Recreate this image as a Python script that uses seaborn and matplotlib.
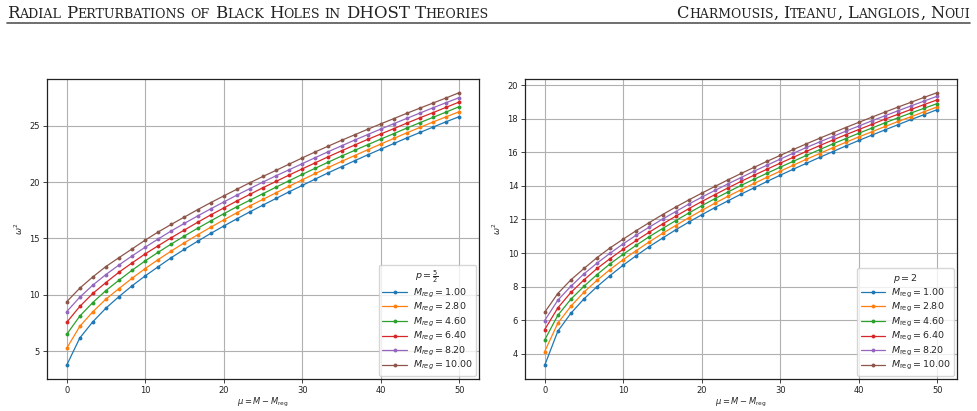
import numpy as np
import pandas as pd
import matplotlib
matplotlib.use('Agg')
import matplotlib.pyplot as plt
import seaborn as sns
from matplotlib.transforms import IdentityTransform
from matplotlib.lines import Line2D

# sampled mu values (same grid for both panels)
mu = [0.0, 1.67, 3.33, 5.0, 6.67, 8.33, 10.0, 11.67, 13.33, 15.0, 16.67,
      18.33, 20.0, 21.67, 23.33, 25.0, 26.67, 28.33, 30.0, 31.67, 33.33,
      35.0, 36.67, 38.33, 40.0, 41.67, 43.33, 45.0, 46.67, 48.33, 50.0]

m_reg = [1.00, 2.80, 4.60, 6.40, 8.20, 10.00]

# p = 5/2
w2_p52_m100 = [3.75, 6.17, 7.61, 8.82, 9.85, 10.80, 11.68, 12.50, 13.30, 14.04, 14.75,
               15.44, 16.10, 16.74, 17.36, 17.96, 18.55, 19.14, 19.70, 20.27, 20.83,
               21.36, 21.89, 22.41, 22.92, 23.42, 23.92, 24.40, 24.88, 25.35, 25.80]
w2_p52_m280 = [5.25, 7.20, 8.50, 9.62, 10.56, 11.47, 12.33, 13.13, 13.89, 14.62, 15.32,
               15.99, 16.64, 17.28, 17.89, 18.47, 19.05, 19.63, 20.20, 20.76, 21.30,
               21.83, 22.35, 22.86, 23.37, 23.87, 24.37, 24.85, 25.33, 25.79, 26.24]
w2_p52_m460 = [6.49, 8.11, 9.32, 10.38, 11.30, 12.18, 13.01, 13.78, 14.51, 15.22, 15.90,
               16.55, 17.19, 17.81, 18.39, 18.97, 19.55, 20.12, 20.68, 21.23, 21.77,
               22.30, 22.81, 23.31, 23.81, 24.30, 24.79, 25.27, 25.74, 26.21, 26.69]
w2_p52_m640 = [7.55, 8.97, 10.12, 11.09, 12.01, 12.83, 13.63, 14.36, 15.07, 15.75, 16.43,
               17.08, 17.70, 18.32, 18.91, 19.50, 20.06, 20.62, 21.17, 21.71, 22.25,
               22.77, 23.28, 23.78, 24.26, 24.74, 25.23, 25.70, 26.16, 26.63, 27.10]
w2_p52_m820 = [8.50, 9.79, 10.86, 11.80, 12.65, 13.45, 14.22, 14.96, 15.67, 16.34, 16.99,
               17.62, 18.23, 18.84, 19.42, 20.00, 20.56, 21.09, 21.63, 22.17, 22.70,
               23.21, 23.72, 24.21, 24.70, 25.18, 25.65, 26.12, 26.59, 27.04, 27.49]
w2_p52_m1000 = [9.38, 10.59, 11.59, 12.51, 13.30, 14.07, 14.85, 15.58, 16.25, 16.90, 17.55,
                18.17, 18.77, 19.36, 19.94, 20.50, 21.04, 21.59, 22.14, 22.68, 23.19,
                23.70, 24.19, 24.68, 25.16, 25.63, 26.10, 26.56, 27.01, 27.46, 27.93]

# p = 2
w2_p2_m100 = [3.31, 5.34, 6.41, 7.27, 8.00, 8.66, 9.28, 9.85, 10.39, 10.89, 11.38,
              11.84, 12.28, 12.71, 13.11, 13.51, 13.89, 14.27, 14.64, 15.00, 15.35,
              15.70, 16.04, 16.38, 16.71, 17.03, 17.34, 17.65, 17.96, 18.25, 18.55]
w2_p2_m280 = [4.13, 5.82, 6.83, 7.67, 8.38, 9.02, 9.61, 10.15, 10.67, 11.17, 11.64,
              12.10, 12.54, 12.97, 13.38, 13.77, 14.15, 14.52, 14.88, 15.24, 15.59,
              15.93, 16.27, 16.60, 16.92, 17.23, 17.54, 17.84, 18.13, 18.42, 18.71]
w2_p2_m460 = [4.82, 6.29, 7.25, 8.02, 8.72, 9.36, 9.93, 10.47, 10.98, 11.46, 11.93,
              12.38, 12.82, 13.24, 13.64, 14.03, 14.40, 14.76, 15.12, 15.47, 15.82,
              16.16, 16.50, 16.82, 17.14, 17.45, 17.76, 18.06, 18.35, 18.63, 18.91]
w2_p2_m640 = [5.44, 6.73, 7.65, 8.40, 9.08, 9.67, 10.23, 10.75, 11.25, 11.73, 12.19,
              12.64, 13.07, 13.48, 13.88, 14.27, 14.64, 15.00, 15.36, 15.71, 16.06,
              16.40, 16.73, 17.05, 17.36, 17.67, 17.98, 18.27, 18.56, 18.85, 19.13]
w2_p2_m820 = [5.98, 7.19, 8.02, 8.76, 9.40, 9.99, 10.55, 11.07, 11.55, 12.02, 12.47,
              12.91, 13.33, 13.73, 14.12, 14.50, 14.88, 15.24, 15.60, 15.95, 16.29,
              16.62, 16.94, 17.26, 17.57, 17.88, 18.18, 18.48, 18.77, 19.06, 19.35]
w2_p2_m1000 = [6.47, 7.59, 8.40, 9.08, 9.73, 10.31, 10.83, 11.34, 11.82, 12.29, 12.74,
               13.16, 13.57, 13.97, 14.36, 14.74, 15.11, 15.47, 15.82, 16.17, 16.51,
               16.84, 17.16, 17.48, 17.79, 18.10, 18.40, 18.70, 18.99, 19.28, 19.56]

series_p52 = [w2_p52_m100, w2_p52_m280, w2_p52_m460, w2_p52_m640, w2_p52_m820, w2_p52_m1000]
series_p2 = [w2_p2_m100, w2_p2_m280, w2_p2_m460, w2_p2_m640, w2_p2_m820, w2_p2_m1000]


def long_form(series, fmt):
    rows = []
    for m, vals in zip(m_reg, series):
        for x, y in zip(mu, vals):
            rows.append({'mu': x, 'w2': y, 'M': fmt.format(m)})
    return pd.DataFrame(rows)


sns.set_theme(style='ticks')
plt.rcParams['font.family'] = ['DejaVu Sans']
plt.rcParams['mathtext.fontset'] = 'dejavusans'

fig = plt.figure(figsize=(9.77, 4.11), dpi=100)
ax1 = fig.add_axes([0.0481, 0.0779, 0.4422, 0.730])
ax2 = fig.add_axes([0.5374, 0.0779, 0.4422, 0.730])

palette = sns.color_palette('tab10', 6)

panels = [
    (ax1, series_p52, r'$M_{{reg}} = {:.2f}$', r'$p = \frac{5}{2}$'),
    (ax2, series_p2, r'$M_{{\rm reg}} = {:.2f}$', r'$p = 2$'),
]

for ax, series, fmt, title in panels:
    df = long_form(series, fmt)
    order = [fmt.format(m) for m in m_reg]
    sns.lineplot(data=df, x='mu', y='w2', hue='M', hue_order=order, palette=palette,
                 marker='o', markersize=2.8, markeredgewidth=0, linewidth=0.9,
                 ax=ax, legend=False)
    ax.grid(True, color='#b0b0b0', linewidth=0.8)
    ax.set_axisbelow(True)
    for s in ax.spines.values():
        s.set_color('#222222')
        s.set_linewidth(0.9)
    ax.tick_params(labelsize=6, length=3, width=0.6, pad=2, colors='#222222')
    ax.set_xticks([0, 10, 20, 30, 40, 50])
    ax.set_xlabel(r'$\mu = M - M_{\rm reg}$', fontsize=6, labelpad=1)
    ax.set_ylabel(r'$\omega^2$', fontsize=6, labelpad=3)
    leg = ax.legend(handles=ax.lines[:6], labels=order, title=title, loc='lower right',
                    fontsize=6.8, title_fontsize=6.8, handlelength=2.6,
                    labelspacing=0.15, borderpad=0.4, handletextpad=0.6,
                    borderaxespad=0.3, framealpha=0.8, edgecolor='0.8')

ax1.set_yticks([5, 10, 15, 20, 25])
ax2.set_yticks([4, 6, 8, 10, 12, 14, 16, 18, 20])


# running header in small caps
def sc_runs(s):
    runs = []
    for ch in s:
        if ch == ' ':
            runs.append((' ', None))
            continue
        kind = 'small' if ch.islower() else 'big'
        if runs and runs[-1][1] == kind:
            runs[-1] = (runs[-1][0] + ch.upper(), kind)
        else:
            runs.append((ch.upper(), kind))
    return runs


def draw_sc(x0, y0, s, target_w, ha='left'):
    r = fig.canvas.get_renderer()
    big, small = 10.0, 7.6
    runs = sc_runs(s)

    def layout(big, small):
        items = []
        for txt, kind in runs:
            if kind is None:
                items.append((None, big * 0.3 * fig.dpi / 72))
                continue
            t = fig.text(0, 0, txt, fontsize=big if kind == 'big' else small,
                         family='DejaVu Serif', color='#222222',
                         transform=IdentityTransform(), va='baseline')
            items.append((t, t.get_window_extent(r).width))
        return items

    items = layout(big, small)
    total = sum(w for _, w in items)
    for t, _ in items:
        if t is not None:
            t.remove()
    k = target_w / total
    items = layout(big * k, small * k)
    total = sum(w for _, w in items)
    x = x0 if ha == 'left' else x0 - total
    for t, w in items:
        if t is not None:
            t.set_position((x, y0))
        x += w


H = 411
draw_sc(7, H - 18.3, 'Radial Perturbations of Black Holes in DHOST Theories', 478)
draw_sc(970, H - 18.3, 'Charmousis, Iteanu, Langlois, Noui', 291, ha='right')
fig.add_artist(Line2D([7 / 977, 970 / 977], [1 - 23.5 / H, 1 - 23.5 / H],
                      transform=fig.transFigure, color='#555555', linewidth=1.2))

fig.savefig('out.png', dpi=100)
